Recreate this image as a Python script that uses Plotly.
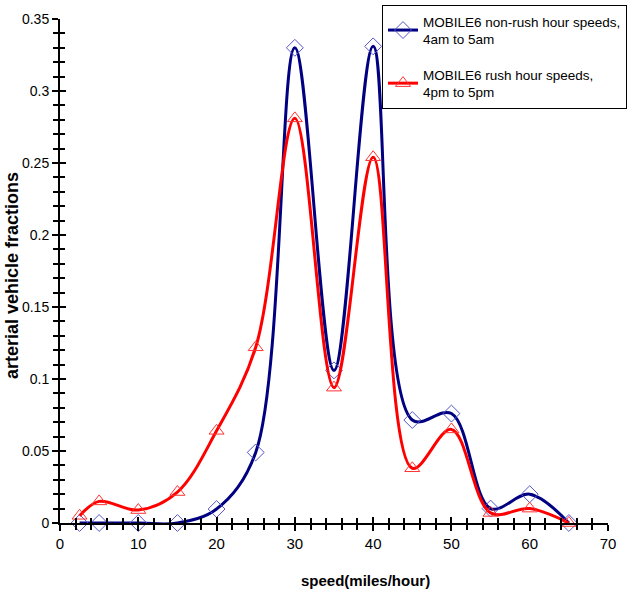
import plotly.graph_objects as go

speeds = [2.5, 5, 10, 15, 20, 25, 30, 35, 40, 45, 50, 55, 60, 65]
non_rush = [0.0, 0.0, 0.0, 0.0, 0.0097, 0.049, 0.330, 0.106, 0.331, 0.0715, 0.076, 0.010, 0.020, 0.0]
rush = [0.005, 0.015, 0.009, 0.0215, 0.064, 0.122, 0.281, 0.094, 0.254, 0.038, 0.065, 0.007, 0.010, 0.0]

name_non_rush = "MOBILE6 non-rush hour speeds,<br>4am to 5am"
name_rush = "MOBILE6 rush hour speeds,<br>4pm to 5pm"
x_title = "<b>speed(miles/hour)</b>"
y_title = "<b>arterial vehicle fractions</b>"

FONT = "Liberation Sans, Arial, sans-serif"

fig = go.Figure()
fig.add_trace(go.Scatter(
    x=speeds, y=non_rush, name=name_non_rush, mode="lines+markers", legendgroup="a",
    line=dict(color="#000080", width=3, shape="spline", smoothing=1.0),
    marker=dict(symbol="diamond-open", size=13, color="#5555cc", line=dict(width=1)),
    cliponaxis=False,
))
fig.add_trace(go.Scatter(
    x=speeds, y=rush, name=name_rush, mode="lines+markers", legendgroup="b",
    line=dict(color="#ff0000", width=3, shape="spline", smoothing=1.0),
    marker=dict(symbol="triangle-up-open", size=13, color="#ff3333", line=dict(width=1)),
    cliponaxis=False,
))

tick_common = dict(showgrid=False, zeroline=False, tickwidth=2, tickcolor="black", ticklen=6)

fig.update_layout(
    width=630, height=593,
    margin=dict(l=60, r=3, t=5, b=70, autoexpand=False),
    paper_bgcolor="white", plot_bgcolor="white",
    font=dict(family=FONT, size=14, color="black"),
    showlegend=True,
    legend=dict(x=1.0, y=1.0, xanchor="right", yanchor="top",
                bordercolor="black", borderwidth=1, bgcolor="white",
                font=dict(size=13.5, family=FONT), tracegroupgap=15, itemwidth=30,
                traceorder="grouped"),
    xaxis=dict(domain=[0, 548 / 567], range=[0, 70], dtick=10, automargin=False,
               showline=True, linecolor="black", linewidth=2, ticks="outside",
               minor=dict(dtick=2, ticks="outside", ticklen=5, tickwidth=2, tickcolor="black"),
               tickfont=dict(size=15, family=FONT),
               **tick_common),
    yaxis=dict(domain=[0, 504 / 518], range=[0, 0.35], dtick=0.05, automargin=False,
               showline=True, linecolor="black", linewidth=2, ticks="outside",
               minor=dict(dtick=0.01, ticks="outside", ticklen=5, tickwidth=2, tickcolor="black"),
               tickfont=dict(size=14, family=FONT),
               **tick_common),
    xaxis2=dict(domain=[0, 548 / 567], range=[0, 70], dtick=10, overlaying="x", side="bottom",
                showline=False, showticklabels=False, ticks="inside",
                minor=dict(dtick=2, ticks="inside", ticklen=5, tickwidth=2, tickcolor="black"),
                **tick_common),
    yaxis2=dict(domain=[0, 504 / 518], range=[0, 0.35], dtick=0.05, overlaying="y", side="left",
                showline=False, showticklabels=False, ticks="inside",
                minor=dict(dtick=0.01, ticks="inside", ticklen=5, tickwidth=2, tickcolor="black"),
                **tick_common),
    annotations=[
        dict(text=x_title, xref="paper", yref="paper", x=(365 - 60) / 567,
             y=(523 - 580) / 518, xanchor="center", yanchor="middle",
             showarrow=False, font=dict(size=15, family=FONT)),
        dict(text=y_title, xref="paper", yref="paper", x=(12 - 60) / 567,
             y=(523 - 276) / 518, xanchor="center", yanchor="middle", textangle=-90,
             showarrow=False, font=dict(size=18, family=FONT)),
    ],
)
# invisible trace to activate the inside-tick overlay axes
fig.add_trace(go.Scatter(x=[None], y=[None], xaxis="x2", yaxis="y2", showlegend=False,
                         hoverinfo="skip"))

fig.write_html("out.html", config={"displayModeBar": False},
               post_script="document.body.style.margin='0';")
